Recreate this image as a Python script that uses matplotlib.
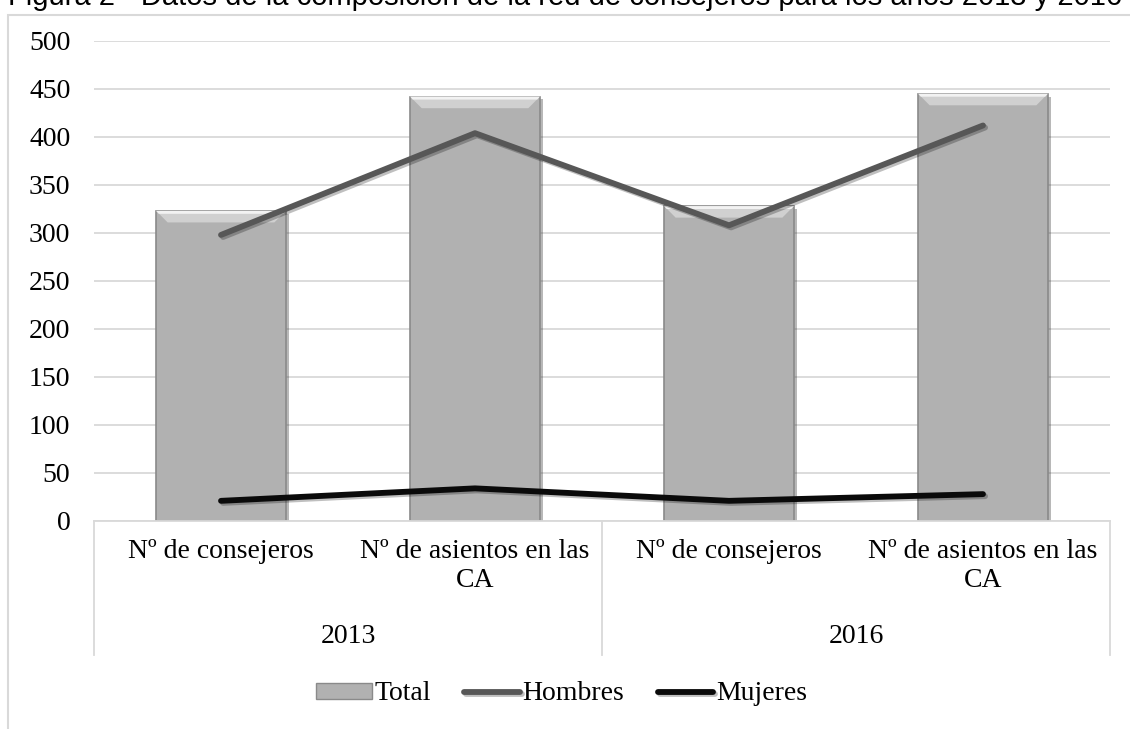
import matplotlib.pyplot as plt
import matplotlib.patheffects as pe
from matplotlib.patches import Rectangle, Polygon
from matplotlib.lines import Line2D
import numpy as np

# datos
categorias = ["Nº de consejeros", "Nº de asientos en las\nCA",
              "Nº de consejeros", "Nº de asientos en las\nCA"]
anios = ["2013", "2016"]
total = [323, 442, 328, 445]
hombres = [298, 404, 308, 412]
mujeres = [21, 34, 21, 28]

plt.rcParams['font.family'] = ['Liberation Serif', 'DejaVu Serif']

fig = plt.figure(figsize=(11.3, 7.29), dpi=100)
ax = fig.add_axes([94 / 1130, 1 - 521 / 729, 1016 / 1130, 480 / 729])

x = np.arange(len(categorias))

# barras con un pequeño bisel
barras = ax.bar(x, total, width=0.51, color='#b1b1b1', edgecolor='#8a8a8a',
                linewidth=1.2, zorder=2,
                path_effects=[pe.withSimplePatchShadow(offset=(2, -2), alpha=0.35)])
for b in barras:
    x0, w, h = b.get_x(), b.get_width(), b.get_height()
    bisel = 12
    ax.add_patch(Polygon([[x0, h], [x0 + w, h], [x0 + w - 0.045, h - bisel],
                          [x0 + 0.045, h - bisel]], closed=True,
                         facecolor='#d0d0d0', edgecolor='none', zorder=2.1))
    ax.add_patch(Polygon([[x0, h], [x0 + w, h], [x0 + w - 0.01, h - 3],
                          [x0 + 0.01, h - 3]], closed=True,
                         facecolor='#f2f2f2', edgecolor='none', zorder=2.2))

l_h, = ax.plot(x, hombres, color='#575757', linewidth=4.2, solid_capstyle='round',
               solid_joinstyle='round', zorder=3,
               path_effects=[pe.SimpleLineShadow(offset=(1.5, -1.5), alpha=0.25), pe.Normal()])
l_m, = ax.plot(x, mujeres, color='#0a0a0a', linewidth=4.2, solid_capstyle='round',
               solid_joinstyle='round', zorder=3,
               path_effects=[pe.SimpleLineShadow(offset=(1.5, -1.5), alpha=0.25), pe.Normal()])

ax.set_xlim(-0.5, len(categorias) - 0.5)
ax.set_ylim(0, 500)
ax.set_yticks(np.arange(0, 501, 50))
ax.tick_params(axis='y', length=0, labelsize=20, pad=17)
ax.set_xticks([])
ax.yaxis.grid(True, color='#d9d9d9', linewidth=1.3)
ax.set_axisbelow(True)
for s in ['top', 'right', 'left']:
    ax.spines[s].set_visible(False)
ax.spines['bottom'].set_color('#d9d9d9')
ax.spines['bottom'].set_linewidth(1.3)

# etiquetas del eje x en dos niveles
trans = ax.get_xaxis_transform()
for i, c in enumerate(categorias):
    ax.text(i, -0.038, c, transform=trans, ha='center', va='top', fontsize=20,
            linespacing=1.2)
for j, a in enumerate(anios):
    ax.text(2 * j + 0.5, -0.215, a, transform=trans, ha='center', va='top', fontsize=20)
for xd in [-0.5, 1.5, 3.5]:
    ax.add_line(Line2D([xd, xd], [0, -0.28], transform=trans, color='#d9d9d9',
                       linewidth=1.3, clip_on=False))

# leyenda
total_h = Rectangle((0, 0), 1, 1, facecolor='#b1b1b1', edgecolor='#8a8a8a')
fig.legend([total_h, l_h, l_m], ["Total", "Hombres", "Mujeres"], loc='center',
           bbox_to_anchor=(0.497, 1 - 694 / 729), ncol=3, frameon=False, fontsize=20,
           handlelength=2.0, handletextpad=0.1, columnspacing=1.2, handleheight=0.5)

# marco del gráfico
fig.add_artist(Rectangle((8 / 1130, -0.05), 1.1, 1 - 15 / 729 + 0.05,
                         transform=fig.transFigure, facecolor='none',
                         edgecolor='#d9d9d9', linewidth=1.5))

fig.text(8 / 1130, 1 - 5 / 729,
         "Figura 2 - Datos de la composición de la red de consejeros para los años 2013 y 2016",
         fontsize=21, family=['Liberation Sans', 'DejaVu Sans'], va='baseline', ha='left')

fig.savefig('out.png', dpi=100)
